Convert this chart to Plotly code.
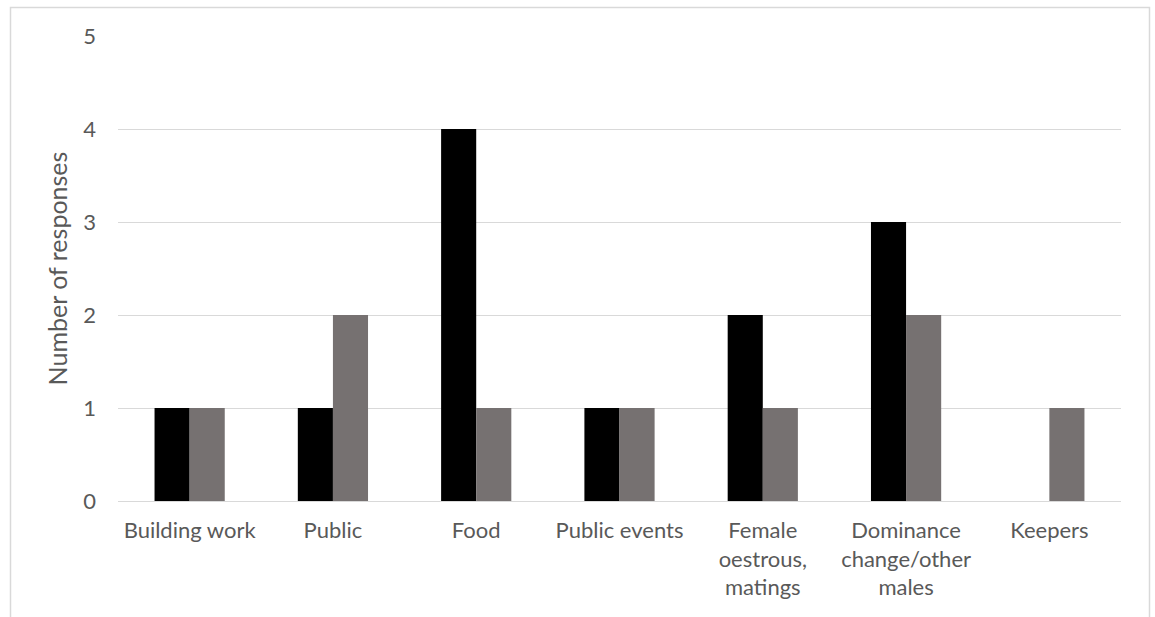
import plotly.graph_objects as go

# Reported triggers and number of responses for each of the two groups
categories = [
    "Building work",
    "Public",
    "Food",
    "Public events",
    "Female<br>oestrous,<br>matings",
    "Dominance<br>change/other<br>males",
    "Keepers",
]
series_a = [1, 1, 4, 1, 2, 3, 0]
series_b = [1, 2, 1, 1, 1, 2, 1]
y_ticks = [0, 1, 2, 3, 4, 5]

W, H = 1155, 617
M_L, M_R, M_T, M_B = 118, 34, 36, 116
plot_w = W - M_L - M_R
plot_h = H - M_T - M_B

text_color = "#595959"
grid_color = "#d9d9d9"
font_family = "Lato, 'Open Sans', sans-serif"

fig = go.Figure()
fig.add_trace(go.Bar(x=categories, y=series_a, marker=dict(color="#000000", line=dict(width=0)), name="A"))
fig.add_trace(go.Bar(x=categories, y=series_b, marker=dict(color="#767171", line=dict(width=0)), name="B"))

# Outer chart frame (open at the bottom of the visible page)
def px_x(px):
    return (px - M_L) / plot_w

def px_y(px):
    return 1 - (px - M_T) / plot_h

fig.add_shape(
    type="rect", xref="paper", yref="paper",
    x0=px_x(10.5), x1=px_x(1149.5), y0=px_y(640), y1=px_y(7.5),
    line=dict(color=grid_color, width=1.5), fillcolor="rgba(0,0,0,0)", layer="below",
)

fig.update_layout(
    width=W, height=H,
    margin=dict(l=M_L, r=M_R, t=M_T, b=M_B),
    paper_bgcolor="white", plot_bgcolor="white",
    barmode="group", bargap=0.51, bargroupgap=0,
    showlegend=False,
    font=dict(family=font_family, size=22, color=text_color),
    xaxis=dict(
        showgrid=False, showline=False, zeroline=False,
        ticks="", tickfont=dict(size=22, color=text_color),
        ticklabelstandoff=14,
    ),
    yaxis=dict(
        range=[0, 5], tickvals=y_ticks,
        showgrid=True, gridcolor=grid_color, gridwidth=1,
        zeroline=True, zerolinecolor=grid_color, zerolinewidth=1,
        showline=False, ticks="", ticklabelstandoff=21,
        tickfont=dict(size=22, color=text_color),
        title=dict(text="Number of responses", font=dict(size=25, color=text_color), standoff=8),
    ),
)

fig.write_html("out.html")
